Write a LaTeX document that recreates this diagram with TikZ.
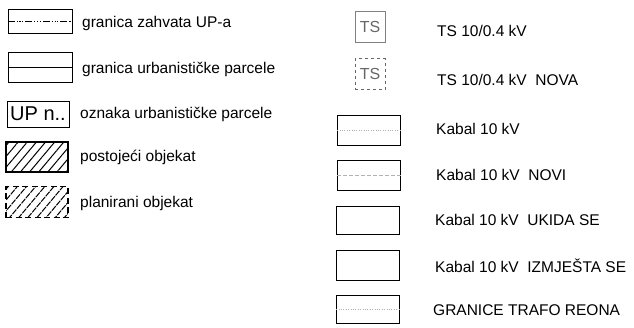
\documentclass[tikz,border=0pt]{standalone}
\usepackage{fontspec}
\setmainfont{Liberation Sans}
\usetikzlibrary{positioning,patterns.meta}

\tikzset{
  symbox/.style={draw,line width=0.8pt,minimum width=#1,minimum height=24pt,inner sep=0pt},
  symbox/.default=64pt,
  legtext/.style={anchor=west,font=\fontsize{15.5}{18}\selectfont,inner sep=0pt},
  hatch/.style={pattern={Lines[angle=50,distance=7pt,line width=1pt]}},
  faint/.style={gray!60,line width=0.4pt}
}

\begin{document}
\begin{tikzpicture}[x=1pt,y=-1pt]
  \useasboundingbox (0,0) rectangle (634,327);
  % left column
  \node[symbox] (zahvat) at (40,21) {};
  \draw[line width=0.6pt,dash pattern=on 7pt off 2pt on 1.2pt off 1.5pt on 1.2pt off 1.5pt on 1.2pt off 2pt]
    (zahvat.west) -- (zahvat.east);
  \node[legtext] (tzahvat) at (82,23) {granica zahvata UP-a};

  \node[symbox,minimum height=30pt] (parcela) at (40,67) {};
  \draw[line width=0.8pt] (parcela.west) -- (parcela.east);
  \node[legtext] (tparcela) at (82,69) {granica urbanističke parcele};

  \node[draw,line width=0.6pt,minimum width=62pt,minimum height=26pt,inner sep=1pt,
        font=\fontsize{20}{22}\selectfont] (upn) at (38,114) {UP n..};
  \node[legtext] (tupn) at (80,114) {oznaka urbanističke parcele};

  \node[symbox,hatch,line width=1.6pt,minimum width=62pt,minimum height=30pt] (postoj) at (37,157) {};
  \node[legtext] (tpostoj) at (80,157) {postojeći objekat};

  \node[symbox,hatch,line width=1.8pt,dash pattern=on 6pt off 3.5pt,minimum width=62pt,minimum height=31pt] (plan) at (37,202) {};
  \node[legtext] (tplan) at (80,203) {planirani objekat};

  % right column
  \node[draw,gray,line width=0.6pt,minimum width=30pt,minimum height=31pt,inner sep=0pt,
        font=\fontsize{16}{18}\selectfont,text=gray!80!black] (ts) at (370,27) {TS};
  \node[legtext] (tts) at (437,31) {TS 10/0.4 kV};

  \node[draw,gray!80!black,dashed,line width=0.6pt,minimum width=30pt,minimum height=31pt,inner sep=0pt,
        font=\fontsize{16}{18}\selectfont,text=gray!80!black] (tsnova) at (370,74) {TS};
  \node[legtext] (ttsnova) at (437,80) {TS 10/0.4 kV\ \ NOVA};

  \node[symbox,minimum width=63pt,minimum height=30pt] (kabal) at (369,130) {};
  \draw[faint,dotted] (kabal.west) -- (kabal.east);
  \node[legtext] (tkabal) at (436,129) {Kabal 10 kV};

  \node[symbox,minimum width=63pt,minimum height=30pt] (kabnovi) at (369,175) {};
  \draw[faint,dash pattern=on 4pt off 2pt] (kabnovi.west) -- (kabnovi.east);
  \node[legtext] (tkabnovi) at (436,175) {Kabal 10 kV\ \ NOVI};

  \node[symbox,minimum width=63pt,minimum height=28pt] (kabukida) at (368,220) {};
  \node[legtext] (tkabukida) at (435,220) {Kabal 10 kV\ \ UKIDA SE};

  \node[symbox,minimum width=63pt,minimum height=30pt] (kabizmj) at (368,265) {};
  \node[legtext] (tkabizmj) at (435,266) {Kabal 10 kV\ \ IZMJEŠTA SE};

  \node[symbox,minimum width=63pt,minimum height=28pt] (reon) at (368,309) {};
  \draw[faint,dotted] (reon.west) -- (reon.east);
  \node[legtext] (treon) at (433,310) {GRANICE TRAFO REONA};
\end{tikzpicture}
\end{document}
